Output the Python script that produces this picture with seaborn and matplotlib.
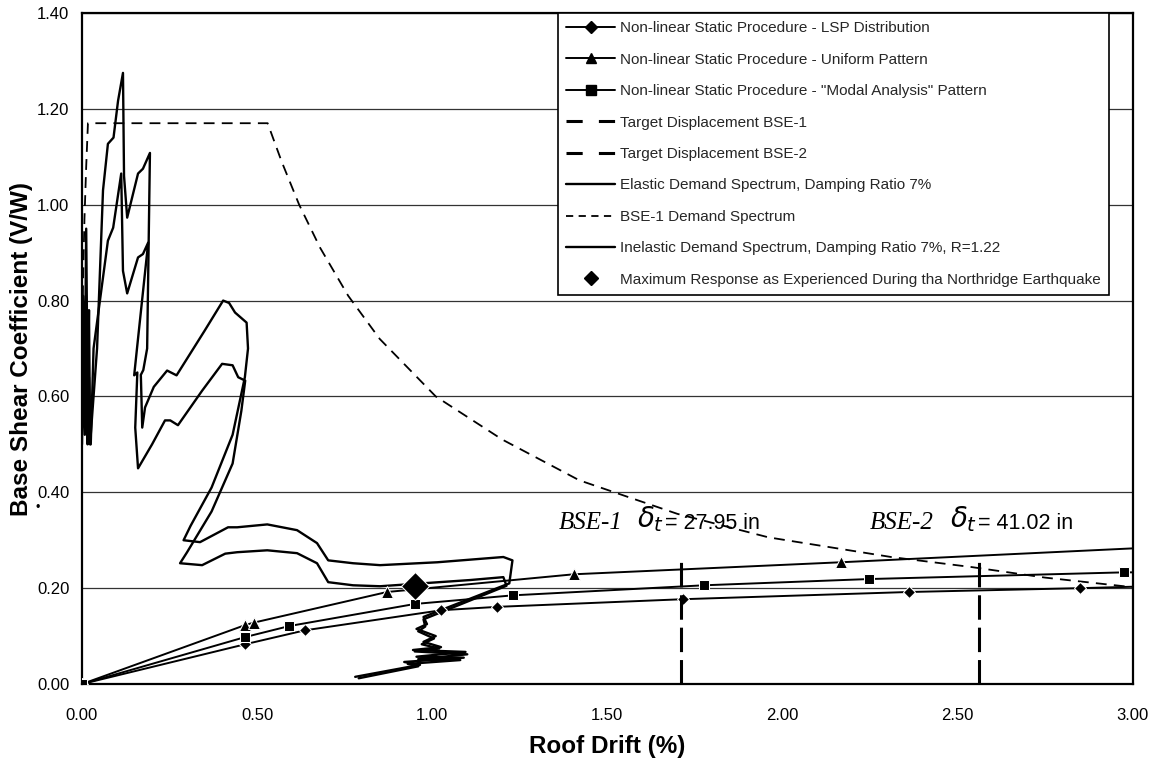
import matplotlib
matplotlib.use("Agg")
import matplotlib.pyplot as plt
import seaborn as sns
from matplotlib.lines import Line2D

# ---------------- data ----------------
lsp_x = [0.0, 0.466, 0.636, 1.026, 1.186, 1.717, 2.36, 2.85, 3.0]
lsp_y = [0.0, 0.083, 0.112, 0.154, 0.161, 0.177, 0.192, 0.200, 0.203]

uni_x = [0.0, 0.466, 0.49, 0.871, 1.405, 2.166, 3.0]
uni_y = [0.0, 0.123, 0.128, 0.192, 0.229, 0.254, 0.283]

modal_x = [0.0, 0.466, 0.592, 0.95, 1.23, 1.776, 2.246, 2.975, 3.0]
modal_y = [0.0, 0.098, 0.121, 0.167, 0.185, 0.206, 0.219, 0.233, 0.233]

target_bse1_x = [1.71, 1.71]
target_bse2_x = [2.56, 2.56]
target_y = [0.0, 0.27]

elastic_x = [0.000, 0.003, 0.008, 0.012, 0.016, 0.020, 0.023, 0.043, 0.060, 0.074,
             0.090, 0.103, 0.117, 0.120, 0.129, 0.160, 0.174, 0.194, 0.186, 0.175,
             0.168, 0.172, 0.180, 0.205, 0.243, 0.270, 0.350, 0.403, 0.420, 0.437,
             0.470, 0.474, 0.465, 0.430, 0.370, 0.310, 0.290, 0.337, 0.417, 0.443,
             0.529, 0.614, 0.671, 0.703, 0.774, 0.851, 1.014, 1.203, 1.229, 1.220,
             0.975, 0.985, 0.955, 1.010, 0.975, 1.025, 0.945, 1.095, 0.955, 1.090,
             0.920, 0.965, 0.780]
elastic_y = [0.60, 0.81, 0.62, 0.95, 0.60, 0.78, 0.50, 0.70, 1.03, 1.127,
             1.14, 1.217, 1.275, 1.06, 0.973, 1.065, 1.075, 1.108, 0.70, 0.655,
             0.645, 0.535, 0.577, 0.62, 0.654, 0.644, 0.737, 0.80, 0.795, 0.775,
             0.754, 0.70, 0.64, 0.52, 0.41, 0.33, 0.30, 0.296, 0.327, 0.327,
             0.333, 0.321, 0.294, 0.258, 0.252, 0.248, 0.254, 0.265, 0.258, 0.21,
             0.14, 0.125, 0.115, 0.10, 0.088, 0.077, 0.071, 0.067, 0.057, 0.055,
             0.046, 0.040, 0.015]

inelastic_x = [0.000, 0.003, 0.008, 0.012, 0.016, 0.020, 0.025, 0.033, 0.074, 0.089,
               0.112, 0.117, 0.129, 0.160, 0.174, 0.189, 0.157, 0.149, 0.158, 0.152,
               0.160, 0.200, 0.237, 0.252, 0.274, 0.343, 0.400, 0.430, 0.446, 0.466,
               0.455, 0.430, 0.370, 0.300, 0.280, 0.343, 0.409, 0.443, 0.529, 0.614,
               0.671, 0.703, 0.774, 0.851, 1.109, 1.203, 1.212, 0.975, 0.980, 0.960,
               1.005, 0.970, 1.020, 0.950, 1.100, 0.960, 1.080, 0.930, 0.960, 0.790]
inelastic_y = [0.50, 0.66, 0.52, 0.78, 0.50, 0.64, 0.50, 0.70, 0.925, 0.952,
               1.065, 0.862, 0.815, 0.89, 0.897, 0.921, 0.70, 0.644, 0.65, 0.535,
               0.45, 0.50, 0.55, 0.55, 0.54, 0.612, 0.668, 0.665, 0.64, 0.633,
               0.57, 0.46, 0.36, 0.275, 0.252, 0.248, 0.272, 0.275, 0.279, 0.273,
               0.252, 0.2125, 0.206, 0.204, 0.217, 0.223, 0.205, 0.135, 0.12, 0.11,
               0.095, 0.083, 0.074, 0.068, 0.062, 0.052, 0.050, 0.042, 0.037, 0.012]

bse1_spec_x = [0.0, 0.001, 0.003, 0.007, 0.012, 0.017, 0.53, 0.57, 0.62, 0.68,
               0.76, 0.85, 0.93, 1.01, 1.20, 1.42, 1.70, 1.96, 2.31, 2.54, 2.75, 3.0]
bse1_spec_y = [0.47, 0.68, 0.84, 0.97, 1.08, 1.17, 1.17, 1.09, 1.00, 0.91,
               0.81, 0.72, 0.66, 0.60, 0.51, 0.425, 0.355, 0.306, 0.265, 0.244, 0.222, 0.202]

northridge_x = [0.95]
northridge_y = [0.205]

legend_labels = [
    "Non-linear Static Procedure - LSP Distribution",
    "Non-linear Static Procedure - Uniform Pattern",
    "Non-linear Static Procedure - \"Modal Analysis\" Pattern",
    "Target Displacement BSE-1",
    "Target Displacement BSE-2",
    "Elastic Demand Spectrum, Damping Ratio 7%",
    "BSE-1 Demand Spectrum",
    "Inelastic Demand Spectrum, Damping Ratio 7%, R=1.22",
    "Maximum Response as Experienced During tha Northridge Earthquake",
]
x_ticks = [0.0, 0.5, 1.0, 1.5, 2.0, 2.5, 3.0]
y_ticks = [0.0, 0.2, 0.4, 0.6, 0.8, 1.0, 1.2, 1.4]

# ---------------- style ----------------
sns.set_theme(style="white")
plt.rcParams["font.family"] = ["Liberation Sans", "DejaVu Sans"]

fig = plt.figure(figsize=(11.5, 7.63), dpi=100)
ax = fig.add_axes([0.0713, 0.1035, 0.9137, 0.8795])


def draw(x, y, **kw):
    sns.lineplot(x=x, y=y, sort=False, estimator=None, ax=ax, color="black",
                 legend=False, **kw)
    return ax.lines[-1]


h_el = draw(elastic_x, elastic_y, linewidth=1.7, zorder=3)
h_inel = draw(inelastic_x, inelastic_y, linewidth=1.7, zorder=3)
h_bse1 = draw(bse1_spec_x, bse1_spec_y, linewidth=1.3, zorder=3)
h_bse1.set_dashes((6, 4))
h_lsp = draw(lsp_x, lsp_y, linewidth=1.4, marker="D", markersize=6,
             markevery=list(range(len(lsp_x) - 1)), zorder=4)
h_uni = draw(uni_x, uni_y, linewidth=1.4, marker="^", markersize=8,
             markevery=list(range(len(uni_x) - 1)), zorder=4)
h_modal = draw(modal_x, modal_y, linewidth=1.4, marker="s", markersize=6.5,
               markevery=list(range(len(modal_x) - 1)), zorder=4)
h_t1 = draw(target_bse1_x, target_y, linewidth=2.2, zorder=4)
h_t1.set_dashes((8, 2.6))
h_t2 = draw(target_bse2_x, target_y, linewidth=2.2, zorder=4)
h_t2.set_dashes((8, 2.6))
h_nr = draw(northridge_x, northridge_y, linestyle="none", marker="D",
            markersize=14, zorder=5)

ax.set_xlim(0, 3.0)
ax.set_ylim(0, 1.4)
ax.set_xticks(x_ticks)
ax.set_yticks(y_ticks)
ax.set_xticklabels([f"{v:.2f}" for v in x_ticks])
ax.set_yticklabels([f"{v:.2f}" for v in y_ticks])
ax.yaxis.grid(True, color="#333333", linewidth=0.9)
ax.xaxis.grid(False)
for s in ax.spines.values():
    s.set_color("black")
    s.set_linewidth(1.6)
ax.tick_params(axis="both", which="major", direction="out", length=4, width=1,
               color="black", labelsize=12, labelcolor="black")
ax.tick_params(axis="x", pad=13)
ax.tick_params(axis="y", pad=5)

ax.set_xlabel("Roof Drift (%)", fontsize=17.5, fontweight="bold", labelpad=9,
              color="black")
ax.set_ylabel("Base Shear Coefficient (V/W)", fontsize=17.5, fontweight="bold",
              labelpad=3, color="black")

handles = [h_lsp, h_uni, h_modal, h_t1, h_t2, h_el, h_bse1, h_inel, h_nr]
leg_handles = []
for h in handles:
    lh = Line2D([], [], color="black", linestyle=h.get_linestyle(),
                linewidth=h.get_linewidth(), marker=h.get_marker(),
                markersize=min(h.get_markersize(), 7))
    if h in (h_t1, h_t2):
        lh.set_dashes((5.3, 5.3))
    if h is h_bse1:
        lh.set_dashes((4, 3))
    leg_handles.append(lh)
leg = ax.legend(leg_handles, legend_labels, loc="upper left",
                bbox_to_anchor=(0.453, 1.0), frameon=True, fancybox=False,
                edgecolor="black", fontsize=11, labelspacing=1.14,
                handlelength=3.2, handletextpad=0.3, borderpad=0.55,
                framealpha=1, borderaxespad=0)
leg.get_frame().set_linewidth(1.2)

# annotations
ax.text(1.36, 0.335, "BSE-1", family="Liberation Serif", style="italic",
        fontsize=18, va="center", ha="left", color="black")
ax.text(1.585, 0.345, r"$\delta_t$", fontsize=20, va="center", ha="left",
        color="black")
ax.text(1.665, 0.335, "= 27.95 in", fontsize=15.5, va="center", ha="left",
        color="black")
ax.text(2.25, 0.335, "BSE-2", family="Liberation Serif", style="italic",
        fontsize=18, va="center", ha="left", color="black")
ax.text(2.478, 0.345, r"$\delta_t$", fontsize=20, va="center", ha="left",
        color="black")
ax.text(2.557, 0.335, "= 41.02 in", fontsize=15.5, va="center", ha="left",
        color="black")

fig.text(38 / 1150, 1 - 508 / 763, "\u2022", fontsize=9, ha="center",
         va="center", color="black")

fig.savefig("out.png", dpi=100, facecolor="white")
